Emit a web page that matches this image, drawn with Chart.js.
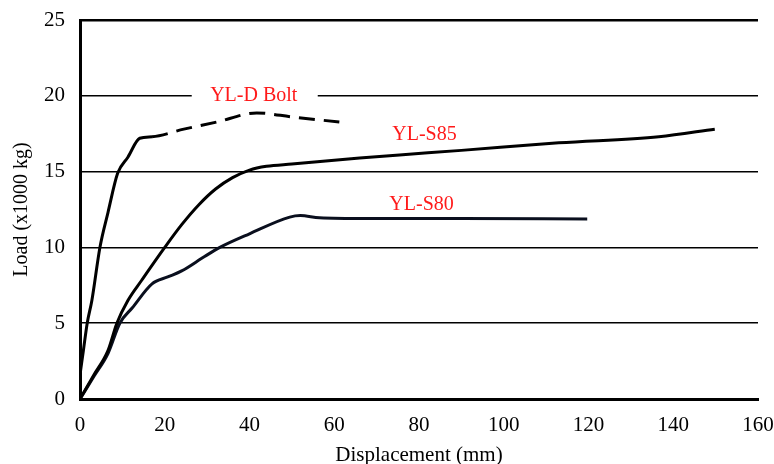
<!DOCTYPE html>
<html>
<head>
<meta charset="utf-8">
<script src="https://cdn.jsdelivr.net/npm/chart.js@4/dist/chart.umd.min.js"></script>
<style>
  html, body { margin: 0; padding: 0; background: #fff; }
  #wrap { width: 774px; height: 464px; position: relative; }
</style>
</head>
<body>
<div id="wrap"><canvas id="c"></canvas></div>
<script>
// ---- data ----
const xTicks = [0, 20, 40, 60, 80, 100, 120, 140, 160];
const yTicks = [0, 5, 10, 15, 20, 25];

const boltX = [0, 0.8, 1.7, 2.8, 4.7, 6.6, 8.9, 11.3, 14.1, 17.0, 24.5, 32.3, 41.7, 50.2, 61.2];
const boltY = [1.6, 3.2, 5.0, 6.5, 10.0, 12.3, 14.9, 15.95, 17.2, 17.3, 17.8, 18.27, 18.87, 18.6, 18.27];

const s85X = [0, 3.3, 6.6, 8.7, 11.3, 14.6, 20.0, 24.0, 28.0, 32.0, 36.0, 40.0, 44.0, 50.0, 56.0, 66.0, 75.4, 90.0, 113.0, 136.6, 149.8];
const s85Y = [0, 1.6, 3.2, 5.0, 6.5, 7.85, 10.0, 11.5, 12.8, 13.85, 14.6, 15.1, 15.35, 15.5, 15.65, 15.9, 16.1, 16.4, 16.9, 17.3, 17.8];

const s80X = [0, 3.3, 6.6, 9.4, 12.3, 17.0, 20.7, 24.0, 29.4, 33.0, 40.0, 49.5, 52.0, 56.5, 67.6, 90.0, 119.7];
const s80Y = [0, 1.5, 3.0, 5.0, 6.0, 7.6, 8.05, 8.45, 9.4, 10.0, 10.9, 12.0, 12.1, 11.95, 11.9, 11.9, 11.87];

const seriesNames = ['YL-D Bolt', 'YL-S85', 'YL-S80'];
const dashFromX = 16.5;   // YL-D Bolt curve becomes dashed after this displacement

// curve labels (data coordinates)
const labelNames = ['YL-D Bolt', 'YL-S85', 'YL-S80'];
const labelX = [41.0, 81.3, 80.6];
const labelY = [20.0, 17.4, 12.8];

const toPts = (xs, ys) => xs.map((x, i) => ({ x: x, y: ys[i] }));

const SERIF = '"Liberation Serif", "Times New Roman", serif';

const curveLabels = {
  id: 'curveLabels',
  afterDatasetsDraw(chart) {
    const { ctx, scales } = chart;
    ctx.save();
    ctx.font = '20px ' + SERIF;
    ctx.textAlign = 'center';
    ctx.textBaseline = 'middle';
    labelNames.forEach((t, i) => {
      const px = scales.x.getPixelForValue(labelX[i]);
      const py = scales.y.getPixelForValue(labelY[i]);
      if (i === 0) {
        ctx.fillStyle = '#ffffff';
        ctx.fillRect(px - 62, py - 4, 126, 8);
      }
      ctx.fillStyle = '#ff1a1a';
      ctx.fillText(t, px, py);
    });
    ctx.restore();
  }
};

const lineStyle = {
  borderColor: '#000000',
  borderWidth: 3,
  pointRadius: 0,
  fill: false,
  cubicInterpolationMode: 'monotone',
  showLine: true
};

new Chart(document.getElementById('c'), {
  type: 'scatter',
  data: {
    datasets: [
      Object.assign({}, lineStyle, {
        label: seriesNames[0],
        data: toPts(boltX, boltY),
        segment: {
          borderDash: ctx => ctx.p0.parsed.x >= dashFromX ? [16, 9] : undefined
        }
      }),
      Object.assign({}, lineStyle, { label: seriesNames[1], data: toPts(s85X, s85Y) }),
      Object.assign({}, lineStyle, { label: seriesNames[2], data: toPts(s80X, s80Y), borderColor: '#0a0f1e' })
    ]
  },
  options: {
    responsive: true,
    maintainAspectRatio: false,
    animation: false,
    layout: { padding: { top: 20, right: 16, left: 0, bottom: 0 } },
    plugins: {
      legend: { display: false },
      tooltip: { enabled: false }
    },
    scales: {
      x: {
        type: 'linear',
        min: 0, max: 160,
        afterBuildTicks: s => { s.ticks = xTicks.map(v => ({ value: v })); },
        afterFit: s => { s.height = 65; s.paddingLeft = 0; s.paddingRight = 0; },
        grid: { display: false, drawTicks: false },
        border: { display: true, color: '#000', width: 3 },
        ticks: {
          color: '#000',
          padding: 14,
          maxRotation: 0,
          font: { family: SERIF, size: 21 }
        },
        title: {
          display: true,
          text: 'Displacement (mm)',
          color: '#000',
          padding: { top: 0, bottom: -2 },
          font: { family: SERIF, size: 21, lineHeight: 1 }
        }
      },
      y: {
        type: 'linear',
        min: 0, max: 25,
        afterBuildTicks: s => { s.ticks = yTicks.map(v => ({ value: v })); },
        afterFit: s => { s.width = 80; s.paddingTop = 0; s.paddingBottom = 0; },
        grid: {
          drawTicks: false,
          color: '#000',
          lineWidth: c => c.tick && c.tick.value === 25 ? 2.5 : (c.tick && c.tick.value === 0 ? 0 : 1.5)
        },
        border: { display: true, color: '#000', width: 3 },
        ticks: {
          color: '#000',
          padding: 15,
          font: { family: SERIF, size: 21 }
        },
        title: {
          display: true,
          text: 'Load (x1000 kg)',
          color: '#000',
          padding: { top: 12, bottom: 0 },
          font: { family: SERIF, size: 20, lineHeight: 1 }
        }
      }
    }
  },
  plugins: [curveLabels]
});
</script>
</body>
</html>
